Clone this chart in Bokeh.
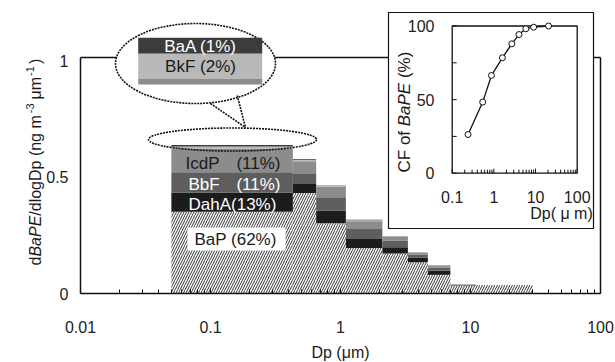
import math
from bokeh.plotting import figure
from bokeh.models import (Range1d, LogScale, LinearScale, LinearAxis, FixedTicker,
                          CustomJSTickFormatter, Label)
from bokeh.embed import file_html
from bokeh.resources import INLINE
from bokeh.core.properties import value

# ---------------- data ----------------
bin_edges = [0.05, 0.43, 0.65, 1.1, 2.1, 3.3, 4.7, 7.0, 11.0, 30.0]
bap  = [0.351, 0.431, 0.302, 0.195, 0.172, 0.134, 0.080, 0.034, 0.037]
daha = [0.083, 0.039, 0.054, 0.039, 0.026, 0.019, 0.018, 0.002, 0.0]
bbf  = [0.086, 0.043, 0.057, 0.043, 0.029, 0.013, 0.013, 0.002, 0.0]
icdp = [0.102, 0.055, 0.046, 0.033, 0.016, 0.008, 0.008, 0.001, 0.0]
bkf  = [0.009, 0.006, 0.004, 0.004, 0.002, 0.001, 0.001, 0.0, 0.0]
baa  = [0.006, 0.003, 0.002, 0.002, 0.001, 0.001, 0.001, 0.0, 0.0]

cf_dp  = [0.24, 0.54, 0.875, 1.6, 2.7, 4.0, 5.85, 9.0, 20.5]
cf_val = [26.3, 48.3, 66.4, 78.4, 87.9, 94.2, 98.1, 99.2, 100.0]

x_ticks = [0.01, 0.1, 1, 10, 100]
x_tick_labels = ["0.01", "0.1", "1", "10", "100"]
y_ticks = [0, 0.5, 1]
y_tick_labels = ["0", "0.5", "1"]
inset_x_ticks = [0.1, 1, 10, 100]
inset_x_tick_labels = ["0.1", "1", "10", "100"]
inset_y_ticks = [0, 50, 100]
inset_y_tick_labels = ["0", "50", "100"]
inset_y_minor = [25, 75]

# ---------------- layout ----------------
FONT = "Liberation Sans"
W, H = 615, 362
AX_L, AX_R, AX_B = 80, 600, 293        # pixel positions of 0.01, 100 and y=0
PX_PER_Y = 233.0
X_LO, X_HI = x_ticks[0], x_ticks[-1]
DEC = (AX_R - AX_L) / (math.log10(X_HI) - math.log10(X_LO))

def mx(px):
    return 10 ** (math.log10(X_LO) + (px - AX_L) / DEC)

def my(py):
    return (AX_B - py) / PX_PER_Y

# inset geometry (pixels)
I_XL, I_XR = 451.7, 576.7     # 0.1 and 100
I_Y0, I_Y100 = 172.7, 25.5
I_DEC = (I_XR - I_XL) / 3.0
I_PY = (I_Y0 - I_Y100) / 100.0

def ipx(px):
    return 10 ** (-1 + (px - I_XL) / I_DEC)

def ipy(py):
    return (I_Y0 - py) / I_PY

p = figure(width=W, height=H, x_axis_type="log",
           x_range=Range1d(mx(0), mx(W)), y_range=Range1d(my(H), my(0)),
           output_backend="svg", toolbar_location=None, title=None, min_border=0)
p.outline_line_color = None
p.grid.visible = False
p.background_fill_color = "white"
p.border_fill_color = "white"

p.extra_x_ranges = {"ix": Range1d(ipx(0), ipx(W))}
p.extra_x_scales = {"ix": LogScale()}
p.extra_y_ranges = {"iy": Range1d(ipy(H), ipy(0))}
p.extra_y_scales = {"iy": LinearScale()}

fmt_code = ("const i = tv.findIndex(t => Math.abs(t - tick) <= 1e-9 * Math.max(1, Math.abs(t)));"
            "return i >= 0 ? tl[i] : '';")

TOP = my(57)

xa = p.xaxis[0]
xa.fixed_location = 0
xa.bounds = (X_LO, X_HI)
xa.ticker = FixedTicker(ticks=x_ticks,
                        minor_ticks=[k * 10 ** e for e in range(-2, 2) for k in range(2, 10)])
xa.formatter = CustomJSTickFormatter(args=dict(tv=x_ticks, tl=x_tick_labels), code=fmt_code)
xa.axis_line_width = 1.5
xa.axis_line_color = "#111111"
xa.major_tick_in = 5
xa.major_tick_out = 0
xa.minor_tick_in = 4
xa.minor_tick_out = 0
xa.major_tick_line_color = "#111111"
xa.minor_tick_line_color = "#111111"
xa.major_label_standoff = 27
xa.major_label_text_font = FONT
xa.major_label_text_font_size = "16px"
xa.major_label_text_color = "#222222"

ya = p.yaxis[0]
ya.fixed_location = X_LO
ya.ticker = FixedTicker(ticks=y_ticks, minor_ticks=[])
ya.formatter = CustomJSTickFormatter(args=dict(tv=y_ticks, tl=y_tick_labels), code=fmt_code)
ya.bounds = (0, TOP)
ya.axis_line_width = 1.5
ya.axis_line_color = "#111111"
ya.major_tick_in = 0
ya.major_tick_out = 0
ya.minor_tick_in = 0
ya.minor_tick_out = 0
ya.major_label_standoff = 12
ya.major_label_text_font = FONT
ya.major_label_text_font_size = "16px"
ya.major_label_text_color = "#222222"

ra = LinearAxis(fixed_location=X_HI, bounds=(0, TOP), ticker=FixedTicker(ticks=[], minor_ticks=[]),
                major_tick_in=0, major_tick_out=0, minor_tick_in=0, minor_tick_out=0,
                major_label_text_font_size="0px", axis_line_width=1.5, axis_line_color="#111111")
p.add_layout(ra, "right")

# top border of main frame
p.segment(x0=[X_LO], y0=[TOP], x1=[X_HI], y1=[TOP], line_color="#111111", line_width=1.5)

# ---------------- stacked bars ----------------
left = bin_edges[:-1]
right = bin_edges[1:]
layers = [("BaP", bap, "white"), ("DahA", daha, "#1c1c1c"), ("BbF", bbf, "#5e5e5e"),
          ("IcdP", icdp, "#8c8c8c"), ("BkF", bkf, "#b8b8b8"), ("BaA", baa, "#3c3c3c")]
base = [0.0] * len(left)
for name, vals, col in layers:
    top = [b + v for b, v in zip(base, vals)]
    if name == "BaP":
        p.quad(left=left, right=right, bottom=base, top=top, fill_color="white",
               hatch_pattern="/", hatch_color="#333333", hatch_scale=5, hatch_weight=1.0,
               line_color=None)
    else:
        p.quad(left=left, right=right, bottom=base, top=top, fill_color=col, line_color=None)
    base = top

def lab(px, py, text, color="#1a1a1a", size="17px", align="left", style="normal", angle=0.0):
    p.add_layout(Label(x=mx(px), y=my(py), text=text, text_color=color, text_font=FONT,
                       text_font_size=size, text_align=align, text_baseline="middle",
                       text_font_style=style, angle=angle))

# labels inside the first bar
lab(185, 163, "IcdP")
lab(280, 163, "(11%)", align="right")
lab(188, 184, "BbF", color="white")
lab(280, 184, "(11%)", color="white", align="right")
lab(188, 203.5, "DahA(13%)", color="white")
p.quad(left=[mx(187)], right=[mx(285)], bottom=[my(250)], top=[my(227)],
       fill_color="white", line_color=None)
lab(194, 238.5, "BaP (62%)")

# ---------------- callout ----------------
p.ellipse(x=[mx(232)], y=[my(139)], width=168, height=23, width_units="screen",
          height_units="screen", fill_color=None, line_color="#111111", line_width=1.6,
          line_dash="2 1")
p.ellipse(x=[mx(195)], y=[my(63)], width=160, height=80, width_units="screen",
          height_units="screen", fill_color="white", line_color="#111111", line_width=1.6,
          line_dash="2 1")
p.segment(x0=[mx(210), mx(236.7)], y0=[my(103), my(95)], x1=[mx(245), mx(245)],
          y1=[my(127), my(127)], line_color="#111111", line_width=1.6, line_dash="2 1")
p.quad(left=[mx(137.7)] * 3, right=[mx(261.7)] * 3,
       bottom=[my(53.3), my(78.3), my(84)], top=[my(37.3), my(53.3), my(78.3)],
       fill_color=["#3c3c3c", "#b8b8b8", "#8c8c8c"], line_color=None)
lab(200, 45.5, "BaA (1%)", color="white", align="center")
lab(200, 66, "BkF (2%)", align="center")

# ---------------- main axis labels ----------------
lab(340, 352, "Dp (μm)", size="16px", align="center")
ypieces = [("d", "normal", "16px", 0, 8.9), ("BaPE", "italic", "16px", 0, 40.9),
           ("/dlogDp (ng m", "normal", "16px", 0, 102.5), ("-3", "normal", "11px", 6, 13.8),
           ("μm", "normal", "16px", 0, 23.5), ("-1", "normal", "11px", 6, 11.8),
           (")", "normal", "16px", 0, 5.3)]
ypos = 265.0
for t, st, sz, raise_, w in ypieces:
    lab(35 - raise_, ypos, t, size=sz, style=st, angle=math.pi / 2)
    ypos -= w

# ---------------- inset ----------------
p.quad(left=[mx(388)], right=[mx(593)], bottom=[my(228)], top=[my(12)],
       fill_color="white", line_color="#111111", line_width=1.2)
IX = dict(x_range_name="ix", y_range_name="iy")
p.quad(left=[inset_x_ticks[0]], right=[inset_x_ticks[-1]], bottom=[inset_y_ticks[0]],
       top=[inset_y_ticks[-1]], fill_color=None, line_color="#111111", line_width=1.3, **IX)
minor_x = [k * 10 ** e for e in (-1, 0, 1) for k in range(2, 10)]
tick_major_h = 4.5 / I_PY
tick_minor_h = 3.5 / I_PY
p.segment(x0=minor_x, y0=[0] * len(minor_x), x1=minor_x, y1=[tick_minor_h] * len(minor_x),
          line_color="#111111", line_width=1, **IX)
p.segment(x0=inset_x_ticks, y0=[0] * 4, x1=inset_x_ticks, y1=[tick_major_h] * 4,
          line_color="#111111", line_width=1, **IX)
ytk = inset_y_minor + inset_y_ticks
fac = 10 ** (4.5 / I_DEC)
p.segment(x0=[0.1] * len(ytk), y0=ytk, x1=[0.1 * fac] * len(ytk), y1=ytk,
          line_color="#111111", line_width=1, **IX)
p.line(cf_dp, cf_val, line_color="#111111", line_width=1.3, **IX)
p.scatter(cf_dp, cf_val, marker="circle", size=6, fill_color="white", line_color="#111111",
          line_width=1, **IX)
p.text(x=inset_x_ticks, y=[ipy(196)] * 4, text=inset_x_tick_labels, text_align="center",
       text_baseline="middle", text_font=value(FONT), text_font_size="16px",
       text_color="#222222", **IX)
p.text(x=[ipx(434)] * 3, y=inset_y_ticks, text=inset_y_tick_labels, text_align="right",
       text_baseline="middle", text_font=value(FONT), text_font_size="16px",
       text_color="#222222", **IX)
lab(561, 213, "Dp( μ m)", size="16px", align="center")
ipieces = [("CF of", "normal", 46.2), ("BaPE", "italic", 48.2), ("(%)", "normal", 26.4)]
ypos = 172.0
for t, st, w in ipieces:
    lab(404, ypos, t, size="17px", style=st, angle=math.pi / 2)
    ypos -= w

open("out.html", "w").write(file_html(p, INLINE))
